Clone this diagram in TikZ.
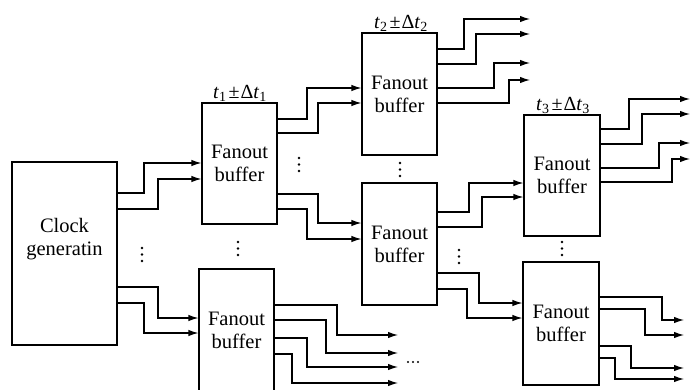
\documentclass[tikz,border=0pt]{standalone}
\usepackage{fontspec}
\setmainfont{Liberation Serif}
\usetikzlibrary{arrows.meta,calc}
\begin{document}
\begin{tikzpicture}[x=1pt,y=-1pt,
  box/.style={draw,line width=1.2pt,inner sep=0pt},
  txt/.style={align=center,inner sep=0pt,font=\fontsize{20.5}{23}\selectfont},
  wire/.style={line width=1.2pt,-{Latex[length=10pt,width=6.5pt]}},
  lbl/.style={font=\fontsize{20}{23}\selectfont,inner sep=0pt,anchor=base},
  dotc/.style={fill=black}]
\useasboundingbox (0,0) rectangle (691,389);
\clip (0,0) rectangle (691,389);
% boxes
\node[box,minimum width=105pt,minimum height=183pt] (clk) at (64.5,253.5) {};
\node[txt] (clkt) at (64.5,239) {Clock\\generatin};
\node[box,txt,minimum width=75pt,minimum height=121pt] (b1) at (239.5,163.5) {Fanout\\buffer};
\node[box,txt,minimum width=75pt,minimum height=122pt] (b2) at (399.5,94) {Fanout\\buffer};
\node[box,txt,minimum width=75pt,minimum height=122pt] (b3) at (399.5,244) {Fanout\\buffer};
\node[box,txt,minimum width=75pt,minimum height=122pt] (b4) at (236.5,330) {Fanout\\buffer};
\node[box,txt,minimum width=76pt,minimum height=121pt] (b5) at (562,175.5) {Fanout\\buffer};
\node[box,txt,minimum width=76pt,minimum height=123pt] (b6) at (561,323.5) {Fanout\\buffer};
% labels
\node[lbl] (l1) at (240,98) {\textit{t}\textsubscript{1}\hspace{2pt}±\hspace{1pt}Δ\textit{t}\textsubscript{1}};
\node[lbl] (l2) at (401,28) {\textit{t}\textsubscript{2}\hspace{2pt}±\hspace{1pt}Δ\textit{t}\textsubscript{2}};
\node[lbl] (l3) at (563,110) {\textit{t}\textsubscript{3}\hspace{2pt}±\hspace{1pt}Δ\textit{t}\textsubscript{3}};
% clock -> b1, b4
\draw[wire] (clk.east |- 0,193) -| (144,163) -- (b1.west |- 0,163);
\draw[wire] (clk.east |- 0,209) -| (158,179) -- (b1.west |- 0,179);
\draw[wire] (clk.east |- 0,287) -| (158,318) -- (b4.west |- 0,318);
\draw[wire] (clk.east |- 0,303) -| (144,333) -- (b4.west |- 0,333);
% b1 -> b2, b3
\draw[wire] (b1.east |- 0,119) -| (307,88) -- (b2.west |- 0,88);
\draw[wire] (b1.east |- 0,133) -| (318,103) -- (b2.west |- 0,103);
\draw[wire] (b1.east |- 0,194) -| (318,223) -- (b3.west |- 0,223);
\draw[wire] (b1.east |- 0,209) -| (307,239) -- (b3.west |- 0,239);
% b2 outputs
\coordinate (o21) at (530,19);
\coordinate (o22) at (530,34);
\coordinate (o23) at (530,63);
\coordinate (o24) at (530,80);
\draw[wire] (b2.east |- 0,49) -| (464,19) -- (o21);
\draw[wire] (b2.east |- 0,64) -| (476,34) -- (o22);
\draw[wire] (b2.east |- 0,88) -| (494,63) -- (o23);
\draw[wire] (b2.east |- 0,103) -| (509,80) -- (o24);
% b3 -> b5, b6
\draw[wire] (b3.east |- 0,212) -| (469,183) -- (b5.west |- 0,183);
\draw[wire] (b3.east |- 0,227) -| (482,197) -- (b5.west |- 0,197);
\draw[wire] (b3.east |- 0,273) -| (479,303) -- (b6.west |- 0,303);
\draw[wire] (b3.east |- 0,289) -| (467,318) -- (b6.west |- 0,318);
% b4 outputs
\coordinate (o41) at (398,335);
\coordinate (o42) at (398,353);
\coordinate (o43) at (398,367);
\coordinate (o44) at (398,383);
\draw[wire] (b4.east |- 0,305) -| (337,335) -- (o41);
\draw[wire] (b4.east |- 0,320) -| (326,353) -- (o42);
\draw[wire] (b4.east |- 0,338) -| (307,367) -- (o43);
\draw[wire] (b4.east |- 0,354) -| (292,383) -- (o44);
% b5 outputs
\coordinate (o51) at (690,99);
\coordinate (o52) at (690,114);
\coordinate (o53) at (690,143);
\coordinate (o54) at (690,159);
\draw[wire] (b5.east |- 0,129) -| (629,99) -- (o51);
\draw[wire] (b5.east |- 0,144) -| (642,114) -- (o52);
\draw[wire] (b5.east |- 0,168) -| (659,143) -- (o53);
\draw[wire] (b5.east |- 0,182) -| (672,159) -- (o54);
% b6 outputs
\coordinate (o61) at (684,320);
\coordinate (o62) at (684,335);
\coordinate (o63) at (684,368);
\coordinate (o64) at (684,379);
\draw[wire] (b6.east |- 0,297) -| (662,320) -- (o61);
\draw[wire] (b6.east |- 0,309) -| (645,335) -- (o62);
\draw[wire] (b6.east |- 0,346) -| (631,368) -- (o63);
\draw[wire] (b6.east |- 0,358) -| (615,379) -- (o64);
% dots
\foreach \x/\y in {142/248,238/242,299/158,400/163,459/250,562/242}
  \foreach \k in {0,1,2}
    \fill[dotc] (\x,\y+6.5*\k) circle (1.4pt);
\foreach \x in {408,413,418}
  \fill[dotc] (\x,362) circle (1.2pt);
\end{tikzpicture}
\end{document}
